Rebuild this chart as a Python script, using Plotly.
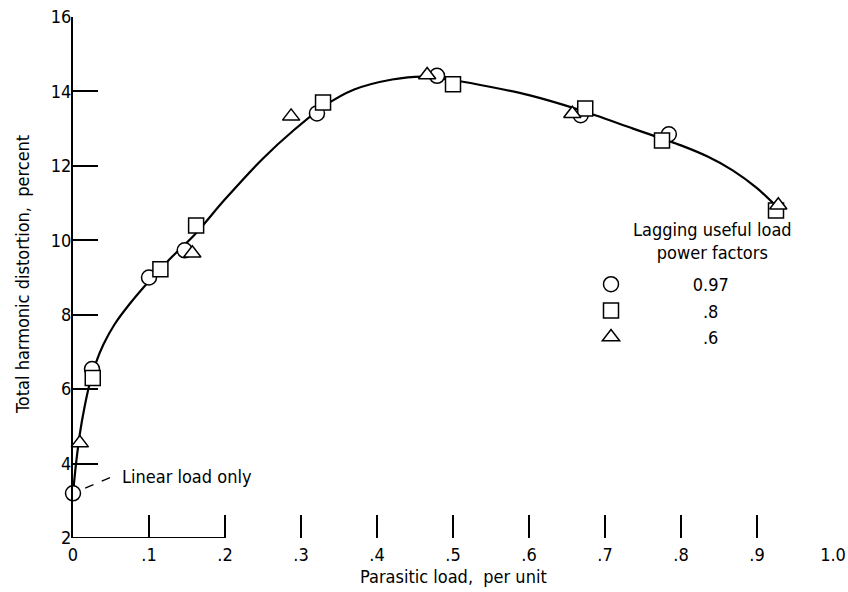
import plotly.graph_objects as go

# Data
pf97_x = [0.0, 0.025, 0.100, 0.147, 0.321, 0.479, 0.668, 0.784]
pf97_y = [3.2, 6.54, 9.0, 9.73, 13.41, 14.42, 13.36, 12.85]

pf8_x = [0.026, 0.115, 0.162, 0.329, 0.500, 0.674, 0.775, 0.925]
pf8_y = [6.30, 9.22, 10.40, 13.70, 14.19, 13.54, 12.68, 10.80]

pf6_x = [0.009, 0.157, 0.287, 0.466, 0.657, 0.928]
pf6_y = [4.55, 9.65, 13.33, 14.44, 13.40, 10.94]

curve_x = [0.0, 0.004, 0.009, 0.015, 0.022, 0.030, 0.040, 0.055, 0.075, 0.100,
           0.130, 0.160, 0.200, 0.250, 0.290, 0.330, 0.370, 0.420, 0.460, 0.500,
           0.550, 0.600, 0.667, 0.737, 0.800, 0.835, 0.868, 0.900, 0.926]
curve_y = [3.2, 4.0, 4.8, 5.5, 6.15, 6.7, 7.2, 7.75, 8.3, 8.9,
           9.55, 10.15, 11.1, 12.2, 12.95, 13.6, 14.05, 14.32, 14.4, 14.3,
           14.12, 13.9, 13.5, 13.0, 12.55, 12.25, 11.88, 11.4, 10.9]

x_ticks = [0, 0.1, 0.2, 0.3, 0.4, 0.5, 0.6, 0.7, 0.8, 0.9, 1.0]
x_ticktext = ["0", ".1", ".2", ".3", ".4", ".5", ".6", ".7", ".8", ".9", "1.0"]
y_ticks = [2, 4, 6, 8, 10, 12, 14, 16]

FONT = "Liberation Sans Narrow, DejaVu Sans Condensed, Arial Narrow, Liberation Sans, sans-serif"
FS = 18
NB = "\u00a0"

fig = go.Figure()
fig.add_trace(go.Scatter(x=curve_x, y=curve_y, mode="lines",
                         line=dict(color="black", width=2.2, shape="spline", smoothing=0.9),
                         showlegend=False, hoverinfo="skip", cliponaxis=False))

marker_common = dict(color="white", size=15, line=dict(color="black", width=1.5))
fig.add_trace(go.Scatter(x=pf97_x, y=pf97_y, mode="markers", name=NB * 12 + "0.97",
                         marker=dict(symbol="circle", **marker_common), cliponaxis=False))
fig.add_trace(go.Scatter(x=pf8_x, y=pf8_y, mode="markers", name=NB * 14 + ".8",
                         marker=dict(symbol="square", **marker_common), cliponaxis=False))
fig.add_trace(go.Scatter(x=pf6_x, y=pf6_y, mode="markers", name=NB * 14 + ".6",
                         marker=dict(symbol="triangle-up", **marker_common), cliponaxis=False))

# partial bottom axis line (as in the scan)
fig.add_shape(type="line", x0=0, x1=0.2, y0=2, y1=2, xref="x", yref="y",
              line=dict(color="black", width=2))
# dashed leader for "Linear load only"
fig.add_shape(type="line", x0=0.016, y0=3.34, x1=0.053, y1=3.66, xref="x", yref="y",
              line=dict(color="black", width=1.3, dash="dash"))

fig.add_annotation(x=0.062, y=3.64, xref="x", yref="y", text="Linear load only",
                   showarrow=False, xanchor="left", yanchor="middle",
                   font=dict(size=FS, family=FONT, color="black"))
fig.add_annotation(x=(712 - 73) / 760, y=1 - (241 - 17) / 521, xref="paper", yref="paper",
                   text="Lagging useful load<br>power factors", showarrow=False,
                   xanchor="center", yanchor="middle", align="center",
                   font=dict(size=FS, family=FONT, color="black"))
# axis titles
fig.add_annotation(x=-51 / 760, y=1 - (275 - 17) / 521, xref="paper", yref="paper",
                   text="Total harmonic distortion,  percent", textangle=-90,
                   showarrow=False, xanchor="center", yanchor="middle",
                   font=dict(size=FS, family=FONT, color="black"))
fig.add_annotation(x=(453 - 73) / 760, y=-(576 - 538) / 521, xref="paper", yref="paper",
                   text="Parasitic load,  per unit", showarrow=False,
                   xanchor="center", yanchor="middle",
                   font=dict(size=FS, family=FONT, color="black"))

fig.update_layout(
    width=848, height=592,
    margin=dict(l=73, r=15, t=17, b=54, autoexpand=False),
    paper_bgcolor="white", plot_bgcolor="white",
    font=dict(family=FONT, size=FS, color="black"),
    showlegend=True,
    legend=dict(x=(591 - 73) / 760, y=1 - (266 - 17) / 521, xanchor="left", yanchor="top",
                bgcolor="rgba(0,0,0,0)", font=dict(size=FS, family=FONT),
                itemwidth=30, tracegroupgap=0),
    xaxis=dict(range=[0, 1.0], tickvals=x_ticks, ticktext=x_ticktext,
               showgrid=False, zeroline=False, showline=False, automargin=False,
               ticks="inside", ticklen=23, tickwidth=1.8, tickcolor="black",
               ticklabelstandoff=4, ticklabeloverflow="allow",
               tickfont=dict(size=FS, family=FONT)),
    yaxis=dict(range=[2, 16], tickvals=y_ticks, showgrid=False, zeroline=False,
               showline=True, linecolor="black", linewidth=2.2, automargin=False,
               ticks="inside", ticklen=25, tickwidth=2, tickcolor="black",
               ticklabelstandoff=-4, ticklabeloverflow="allow",
               tickfont=dict(size=FS, family=FONT)),
)

# remove the browser's default 8 px page margin so the 848x592 figure fills the window
fig.write_html("out.html",
               config={"displayModeBar": False},
               post_script="document.body.style.margin='0px'; document.body.style.overflow='hidden';")
